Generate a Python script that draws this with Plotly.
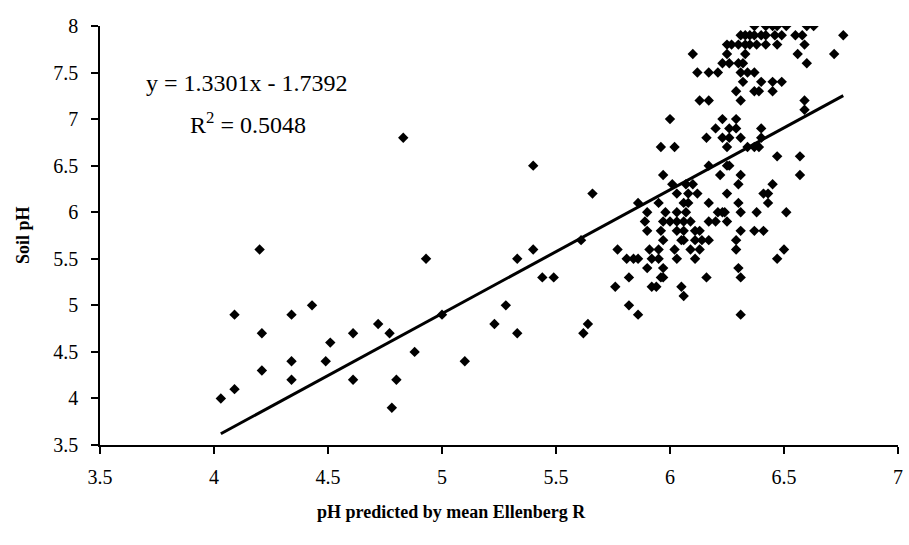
import plotly.graph_objects as go

# Data (predicted pH from mean Ellenberg R vs soil pH)
x_pred = [
    # soil pH 8.0
    6.37, 6.42, 6.45, 6.47, 6.51, 6.60, 6.63,
    # 7.9
    6.31, 6.33, 6.35, 6.37, 6.40, 6.42, 6.46, 6.49, 6.55, 6.58, 6.76,
    # 7.8
    6.25, 6.27, 6.30, 6.33, 6.35, 6.38, 6.42, 6.47, 6.59,
    # 7.7
    6.10, 6.25, 6.33, 6.56, 6.72,
    # 7.6
    6.23, 6.26, 6.30, 6.32, 6.60,
    # 7.5
    6.12, 6.17, 6.21, 6.31, 6.34, 6.37,
    # 7.4
    6.32, 6.40, 6.45, 6.49,
    # 7.3
    6.29, 6.37, 6.39, 6.45,
    # 7.2
    6.13, 6.17, 6.31, 6.59,
    # 7.1
    6.59,
    # 7.0
    6.00, 6.23, 6.29,
    # 6.9
    6.20, 6.26, 6.29, 6.40,
    # 6.8
    4.83, 6.16, 6.23, 6.26, 6.31, 6.40,
    # 6.7
    5.96, 6.02, 6.25, 6.34, 6.37, 6.39,
    # 6.6
    6.47, 6.57,
    # 6.5
    5.40, 6.17, 6.25, 6.26,
    # 6.4
    5.97, 6.22, 6.31, 6.57,
    # 6.3
    6.01, 6.07, 6.10, 6.30, 6.45,
    # 6.2
    5.66, 6.03, 6.08, 6.12, 6.25, 6.41, 6.43,
    # 6.1
    5.86, 5.95, 6.06, 6.08, 6.17, 6.30, 6.43,
    # 6.0
    5.90, 5.98, 6.03, 6.07, 6.21, 6.23, 6.24, 6.31, 6.38, 6.51,
    # 5.9
    5.89, 5.97, 6.00, 6.03, 6.06, 6.09, 6.17, 6.20, 6.25,
    # 5.8
    5.90, 5.96, 6.03, 6.06, 6.11, 6.13, 6.31, 6.37, 6.41,
    # 5.7
    5.61, 5.97, 6.05, 6.06, 6.11, 6.14, 6.17, 6.29,
    # 5.6
    4.20, 5.40, 5.77, 5.91, 5.95, 6.02, 6.09, 6.13, 6.29, 6.50,
    # 5.5
    4.93, 5.33, 5.81, 5.84, 5.86, 5.92, 5.95, 6.03, 6.11, 6.47,
    # 5.4
    5.90, 5.97, 6.30,
    # 5.3
    5.44, 5.49, 5.82, 5.96, 5.97, 6.16, 6.31,
    # 5.2
    5.76, 5.92, 5.94, 6.05,
    # 5.1
    6.06,
    # 5.0
    4.43, 5.28, 5.82,
    # 4.9
    4.09, 4.34, 5.00, 5.86, 6.31,
    # 4.8
    4.72, 5.23, 5.64,
    # 4.7
    4.21, 4.61, 4.77, 5.33, 5.62,
    # 4.6
    4.51,
    # 4.5
    4.88,
    # 4.4
    4.34, 4.49, 5.10,
    # 4.3
    4.21,
    # 4.2
    4.34, 4.61, 4.80,
    # 4.1
    4.09,
    # 4.0
    4.03,
    # 3.9
    4.78,
]

soil_ph = (
    [8.0] * 7 + [7.9] * 11 + [7.8] * 9 + [7.7] * 5 + [7.6] * 5 + [7.5] * 6
    + [7.4] * 4 + [7.3] * 4 + [7.2] * 4 + [7.1] * 1 + [7.0] * 3 + [6.9] * 4
    + [6.8] * 6 + [6.7] * 6 + [6.6] * 2 + [6.5] * 4 + [6.4] * 4 + [6.3] * 5
    + [6.2] * 7 + [6.1] * 7 + [6.0] * 10 + [5.9] * 9 + [5.8] * 9 + [5.7] * 8
    + [5.6] * 10 + [5.5] * 10 + [5.4] * 3 + [5.3] * 7 + [5.2] * 4 + [5.1] * 1
    + [5.0] * 3 + [4.9] * 5 + [4.8] * 3 + [4.7] * 5 + [4.6] * 1 + [4.5] * 1
    + [4.4] * 3 + [4.3] * 1 + [4.2] * 3 + [4.1] * 1 + [4.0] * 1 + [3.9] * 1
)

slope = 1.3301
intercept = -1.7392
r_squared = 0.5048

x_ticks = [3.5, 4, 4.5, 5, 5.5, 6, 6.5, 7]
y_ticks = [3.5, 4, 4.5, 5, 5.5, 6, 6.5, 7, 7.5, 8]

FONT = "Liberation Serif"

line_x = [min(x_pred), max(x_pred)]
line_y = [slope * v + intercept for v in line_x]

fig = go.Figure()
fig.add_trace(go.Scatter(
    x=x_pred, y=soil_ph, mode="markers",
    marker=dict(symbol="diamond", size=8, color="black", line=dict(width=0)),
    hoverinfo="x+y",
))
fig.add_trace(go.Scatter(
    x=line_x, y=line_y, mode="lines",
    line=dict(color="black", width=3),
    hoverinfo="skip",
))

fig.update_layout(
    width=909, height=545,
    margin=dict(l=100, r=6, t=26, b=100),
    plot_bgcolor="white", paper_bgcolor="white",
    showlegend=False,
    font=dict(family=FONT, color="black"),
    xaxis=dict(
        range=[3.5, 7], tickvals=x_ticks, ticktext=[f"{v:g}" for v in x_ticks],
        showline=True, linecolor="black", linewidth=1.5,
        ticks="outside", ticklen=7, tickwidth=1.5, tickcolor="black",
        showgrid=False, zeroline=False,
        tickfont=dict(family=FONT, size=20, color="black"),
        ticklabelstandoff=6,
    ),
    yaxis=dict(
        range=[3.5, 8], tickvals=y_ticks, ticktext=[f"{v:g}" for v in y_ticks],
        showline=True, linecolor="black", linewidth=1.5,
        ticks="outside", ticklen=7, tickwidth=1.5, tickcolor="black",
        showgrid=False, zeroline=False,
        tickfont=dict(family=FONT, size=20, color="black"),
        ticklabelstandoff=9,
    ),
    annotations=[
        dict(text=f"y = {slope}x - {abs(intercept)}", x=4.146, y=7.39,
             xref="x", yref="y", showarrow=False,
             font=dict(family=FONT, size=24, color="black")),
        dict(text=f"R<sup>2</sup> = {r_squared}", x=4.15, y=6.96,
             xref="x", yref="y", showarrow=False,
             font=dict(family=FONT, size=24, color="black")),
        dict(text="<b>pH predicted by mean Ellenberg R</b>", x=0.44, y=-0.16,
             xref="paper", yref="paper", showarrow=False,
             xanchor="center", yanchor="middle",
             font=dict(family=FONT, size=18, color="black")),
        dict(text="<b>Soil pH</b>", x=-0.097, y=0.5, textangle=-90,
             xref="paper", yref="paper", showarrow=False,
             xanchor="center", yanchor="middle",
             font=dict(family=FONT, size=18, color="black")),
    ],
)

fig.write_html("out.html")
